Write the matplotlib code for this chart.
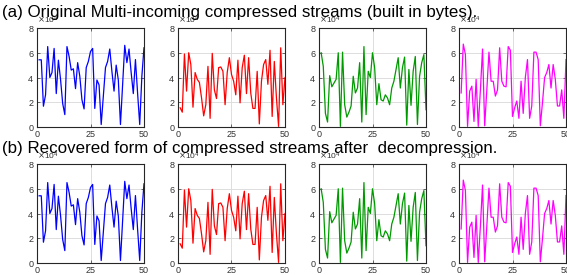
import numpy as np
import matplotlib
matplotlib.use("Agg")
from matplotlib import pyplot as plt
from matplotlib.ticker import ScalarFormatter

plt.rcParams['font.family'] = ['Liberation Sans', 'DejaVu Sans']

# stream sizes, in units of 1e4 bytes
blue = [5.43, 5.43, 1.68, 2.6, 6.5, 4.0, 4.4, 6.35, 2.7, 5.4,
        3.85, 1.9, 1.0, 6.5, 5.7, 4.6, 4.7, 3.1, 5.2, 4.1,
        2.2, 1.46, 4.8, 5.3, 6.1, 6.35, 1.5, 3.8, 3.4, 0.2,
        2.5, 4.8, 5.3, 6.3, 4.5, 2.9, 5.0, 3.8, 0.2, 3.4,
        6.6, 5.2, 6.3, 4.4, 2.7, 5.45, 2.75, 0.2, 4.1, 6.4]
red = [1.55, 1.2, 5.9, 2.9, 6.0, 5.05, 1.6, 4.4, 3.85, 3.6,
       2.35, 0.9, 1.8, 4.9, 0.7, 5.95, 3.0, 2.3, 4.8, 4.85,
       4.5, 1.8, 4.4, 5.6, 4.25, 3.7, 2.6, 5.4, 1.95, 4.8,
       5.8, 2.7, 5.6, 2.75, 1.5, 1.5, 4.5, 0.25, 3.7, 5.05,
       5.45, 3.45, 6.2, 0.85, 5.3, 2.35, 0.05, 6.4, 1.8, 4.0]
green = [6.0, 4.9, 1.1, 0.4, 4.15, 3.25, 3.55, 3.85, 6.0, 0.05,
         6.05, 1.8, 0.8, 1.2, 1.7, 4.1, 2.75, 3.15, 5.2, 0.4,
         6.5, 1.0, 4.5, 4.0, 6.0, 4.8, 1.8, 3.5, 2.2, 2.1,
         2.6, 2.35, 1.8, 3.15, 3.7, 4.65, 5.6, 3.15, 4.8, 5.65,
         0.15, 4.65, 1.75, 4.5, 5.7, 0.2, 4.1, 5.2, 5.85, 1.4]
magenta = [2.75, 6.7, 5.85, 0.05, 2.9, 3.3, 0.45, 3.85, 0.05, 3.0,
           6.3, 0.1, 3.0, 6.05, 3.7, 3.7, 2.5, 3.0, 6.4, 3.7,
           3.3, 3.25, 6.5, 6.2, 0.85, 1.55, 2.1, 0.7, 3.7, 1.1,
           4.0, 5.45, 0.7, 1.7, 6.05, 6.05, 5.45, 0.1, 1.95, 4.0,
           4.4, 5.05, 3.15, 5.05, 3.85, 1.7, 1.7, 3.0, 0.7, 5.45]

series = [blue, red, green, magenta]
colors = ['#0000ff', '#ff0000', '#009900', '#ff00ff']
xticks = [0, 25, 50]
yticks = [0, 2e4, 4e4, 6e4, 8e4]
titles = ['(a) Original Multi-incoming compressed streams (built in bytes).',
          '(b) Recovered form of compressed streams after  decompression.']

W, H = 567, 275
fig = plt.figure(figsize=(W/100, H/100), dpi=100)

lefts = [37, 178, 319, 459]
tops = [28, 164]
aw, ah = 107, 99

for r in range(2):
    for c in range(4):
        ax = fig.add_axes([lefts[c]/W, 1-(tops[r]+ah)/H, aw/W, ah/H])
        x = np.arange(1, 51)
        ax.plot(x, np.array(series[c])*1e4, color=colors[c], lw=0.9)
        ax.set_xlim(0, 50)
        ax.set_ylim(0, 8e4)
        ax.set_xticks(xticks)
        ax.set_yticks(yticks)
        fmt = ScalarFormatter(useMathText=True)
        fmt.set_powerlimits((0, 0))
        ax.yaxis.set_major_formatter(fmt)
        ax.yaxis.get_offset_text().set_fontsize(6)
        ax.yaxis.get_offset_text().set_color('#555555')
        ax.grid(True, color='#dddddd', lw=0.7)
        ax.set_axisbelow(True)
        ax.tick_params(direction='in', length=2, width=0.5, labelsize=6.5,
                       colors='#333333', pad=2, top=True, right=True)
        for s in ax.spines.values():
            s.set_linewidth(0.8)
            s.set_color('#262626')

fig.text(2/W, 1-13/H, titles[0], fontsize=12.2, va='center', ha='left')
fig.text(2/W, 1-148/H, titles[1], fontsize=12.2, va='center', ha='left')

fig.savefig('out.png', dpi=100)
